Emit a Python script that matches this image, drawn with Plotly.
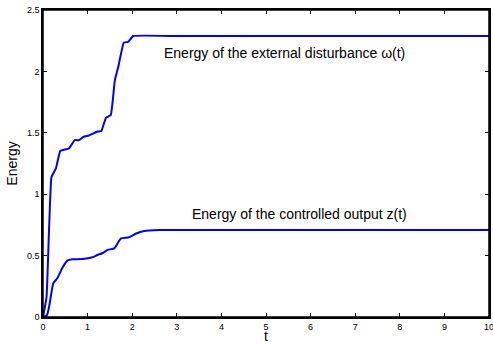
import plotly.graph_objects as go

# Energy of the external disturbance w(t)
t_dist = [0.0, 0.08, 0.19, 0.29, 0.39, 0.58, 0.71, 0.81, 0.91, 1.03, 1.22, 1.31, 1.41, 1.52, 1.61, 1.69, 1.81, 1.91, 2.02, 3.0, 5.0, 7.0, 10.0]
e_dist = [0.0, 0.165, 1.14, 1.21, 1.354, 1.372, 1.44, 1.44, 1.468, 1.478, 1.51, 1.515, 1.622, 1.645, 1.925, 2.04, 2.234, 2.241, 2.288, 2.288, 2.288, 2.288, 2.288]

# Energy of the controlled output z(t)
t_out = [0.0, 0.09, 0.15, 0.23, 0.32, 0.43, 0.545, 0.66, 0.88, 1.11, 1.22, 1.33, 1.45, 1.6, 1.75, 1.93, 2.09, 2.27, 2.61, 3.5, 5.0, 7.0, 10.0]
e_out = [0.0, 0.016, 0.11, 0.274, 0.315, 0.397, 0.459, 0.47, 0.472, 0.486, 0.505, 0.519, 0.546, 0.559, 0.64, 0.649, 0.68, 0.70, 0.708, 0.709, 0.709, 0.709, 0.709]

x_ticks = [0, 1, 2, 3, 4, 5, 6, 7, 8, 9, 10]
y_ticks = [0, 0.5, 1, 1.5, 2, 2.5]
y_tick_text = ["0", "0.5", "1", "1.5", "2", "2.5"]

FONT = "Liberation Sans, Arial, sans-serif"

fig = go.Figure()
fig.add_trace(go.Scatter(x=t_dist, y=e_dist, mode="lines",
                         line=dict(color="#0000ff", width=2, shape="spline", smoothing=0.3),
                         showlegend=False, cliponaxis=False))
fig.add_trace(go.Scatter(x=t_out, y=e_out, mode="lines",
                         line=dict(color="#0000ff", width=2, shape="spline", smoothing=0.5),
                         showlegend=False, cliponaxis=False))

fig.add_annotation(x=2.66, y=2.15, xref="x", yref="y", xanchor="left", yanchor="middle",
                   text="Energy of the external disturbance \u03c9(t)", showarrow=False,
                   font=dict(family=FONT, size=14, color="black"))
fig.add_annotation(x=3.3, y=0.835, xref="x", yref="y", xanchor="left", yanchor="middle",
                   text="Energy of the controlled output z(t)", showarrow=False,
                   font=dict(family=FONT, size=14, color="black"))

# plot frame (box around the axes area)
fig.add_shape(type="rect", xref="paper", yref="paper", x0=0, y0=0, x1=1, y1=1,
              line=dict(color="black", width=1.5), fillcolor="rgba(0,0,0,0)", layer="above")

axis_common = dict(showline=True, linecolor="black", linewidth=1.5, mirror="ticks",
                   ticks="inside", ticklen=4, tickcolor="black", tickwidth=1, showgrid=False,
                   zeroline=False, automargin=False, ticklabeloverflow="allow",
                   tickfont=dict(family=FONT, size=9, color="black"))

fig.update_xaxes(range=[0, 10], tickvals=x_ticks, ticktext=[str(v) for v in x_ticks],
                 title=dict(text="t", standoff=4, font=dict(family=FONT, size=14, color="black")),
                 **axis_common)
fig.update_yaxes(range=[0, 2.5], tickvals=y_ticks, ticktext=y_tick_text,
                 title=dict(text="Energy", standoff=6, font=dict(family=FONT, size=14, color="black")),
                 **axis_common)

fig.update_layout(width=493, height=344, margin=dict(l=43, r=4, t=10, b=27),
                  paper_bgcolor="white", plot_bgcolor="white")

fig.write_html("out.html", config={"displayModeBar": False},
               post_script="document.body.style.margin='0';document.body.style.padding='0';document.body.style.overflow='hidden';")
